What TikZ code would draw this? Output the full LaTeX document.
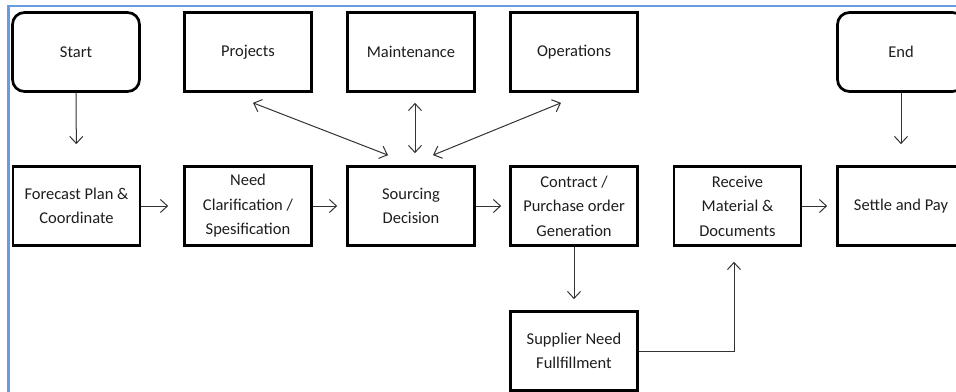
\documentclass[tikz,border=0pt]{standalone}
\usepackage{fontspec}
\setmainfont{Carlito}
\usetikzlibrary{arrows.meta}
\definecolor{frameblue}{RGB}{105,155,225}
\definecolor{txt}{RGB}{30,30,30}
\tikzset{
  box/.style={draw=black, line width=2.7pt, minimum width=127pt, minimum height=79pt,
    align=center, text=txt, inner sep=2pt,
    font=\fontsize{16.5}{24.5}\selectfont},
  term/.style={box, rounded corners=12pt},
  arr/.style={draw=black!80, line width=1pt, -{Straight Barb[length=7pt,width=13pt]}},
  darr/.style={draw=black!80, line width=1pt, {Straight Barb[length=7pt,width=13pt]}-{Straight Barb[length=7pt,width=13pt]}}
}
\begin{document}
\begin{tikzpicture}[x=1pt,y=-1pt]
\useasboundingbox (0,0) rectangle (956,391);
\clip (0,0) rectangle (956,391);
\fill[white] (0,0) rectangle (956,391);
\draw[frameblue, line width=2pt] (8,6) -- (958,6);
\draw[frameblue, line width=3pt] (8.5,5) -- (8.5,395);

\node[term] (start) at (76,52) {Start};
\node[box] (projects) at (248,52) {Projects};
\node[box] (maint) at (411,52) {Maintenance};
\node[box] (ops) at (574,52) {Operations};
\node[term] (end) at (901,52) {End};

\node[box] (forecast) at (76.5,206) {Forecast Plan \&\\Coordinate};
\node[box] (need) at (248,206) {Need\\Clarification /\\Spesification};
\node[box] (sourcing) at (411,206) {Sourcing\\Decision};
\node[box] (contract) at (574,206) {Contract /\\Purchase order\\Generation};
\node[box] (receive) at (737.5,206) {Receive\\Material \&\\Documents};
\node[box] (settle) at (901,206) {Settle and Pay};
\node[box] (supplier) at (574,351) {Supplier Need\\Fullfillment};

\draw[arr, shorten >=21pt] (start) -- (forecast);
\draw[arr, shorten >=21pt] (end) -- (settle);
\draw[arr, shorten >=15pt] (forecast) -- (need);
\draw[arr, shorten >=9pt] (need) -- (sourcing);
\draw[arr, shorten >=8pt] (sourcing) -- (contract);
\draw[arr, shorten >=9pt] (receive) -- (settle);
\draw[arr, shorten >=11pt] (contract) -- (supplier);
\draw[arr, shorten >=15pt] (supplier.east) -| ([xshift=-3.5pt]receive.south);

\draw[darr] ([shift={(5,10)}]projects.south) -- ([shift={(-23,-10)}]sourcing.north);
\draw[darr] ([shift={(4,10)}]maint.south) -- ([shift={(4,-12)}]sourcing.north);
\draw[darr] ([shift={(-13,10)}]ops.south) -- ([shift={(22,-10)}]sourcing.north);
\end{tikzpicture}
\end{document}
